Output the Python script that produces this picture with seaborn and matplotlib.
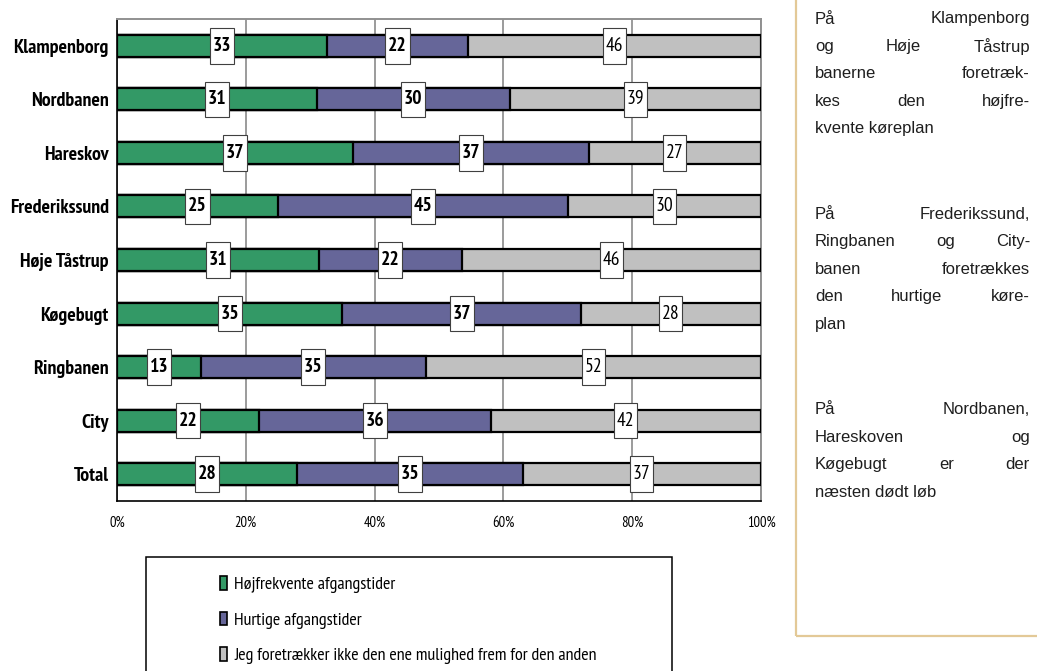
import matplotlib
matplotlib.use("Agg")
import matplotlib.pyplot as plt
from matplotlib import font_manager
from matplotlib.patches import Patch, Rectangle
from matplotlib.path import Path
from matplotlib.ticker import FixedLocator, FuncFormatter
import numpy as np
import pandas as pd
import seaborn as sns

# ---- data -------------------------------------------------------------
stations = ["Klampenborg", "Nordbanen", "Hareskov", "Frederikssund",
            "Høje Tåstrup", "Køgebugt", "Ringbanen", "City", "Total"]
hoejfrekvente = [33, 31, 37, 25, 31, 35, 13, 22, 28]
hurtige = [22, 30, 37, 45, 22, 37, 35, 36, 35]
ingen_praeference = [46, 39, 27, 30, 46, 28, 52, 42, 37]

series_names = ["Højfrekvente afgangstider",
                "Hurtige afgangstider",
                "Jeg foretrækker ikke den ene mulighed frem for den anden"]
series_colors = ["#339966", "#666699", "#C0C0C0"]
x_ticks = [0, 20, 40, 60, 80, 100]

notes = [
    ["På Klampenborg", "og Høje Tåstrup", "banerne foretræk-",
     "kes den højfre-", "kvente køreplan"],
    ["På Frederikssund,", "Ringbanen og City-", "banen foretrækkes",
     "den hurtige køre-", "plan"],
    ["På Nordbanen,", "Hareskoven og", "Køgebugt er der",
     "næsten dødt løb"],
]

# ---- style ------------------------------------------------------------
sns.set_style("white")
weights = {}
for f in font_manager.fontManager.ttflist:
    w = f.weight if isinstance(f.weight, int) else 400
    weights.setdefault(f.name, set()).add(w)
narrow_candidates = ["Liberation Sans Narrow", "Arial Narrow", "Archivo Narrow",
                     "PT Sans Narrow", "Roboto Condensed", "Pragati Narrow",
                     "Encode Sans Condensed", "Fira Sans Condensed"]
present = [n for n in narrow_candidates if n in weights]
with_bold = [n for n in present if any(w >= 600 for w in weights[n])]
NARROW = (with_bold or present or [None])[0]
if NARROW is None:
    NARROW, shrink = "Liberation Sans", 0.82
else:
    shrink = 1.0
plt.rcParams["font.family"] = [NARROW, "DejaVu Sans"]
plt.rcParams["text.color"] = "black"

W, H = 1037, 671
fig = plt.figure(figsize=(W / 100, H / 100), dpi=100)
ax = fig.add_axes([117 / W, 1 - 501 / H, (761 - 117) / W, (501 - 19) / H])

# ---- 100 % stacked bars ------------------------------------------------
vals = np.array([hoejfrekvente, hurtige, ingen_praeference], dtype=float)
shares = vals / vals.sum(axis=0) * 100
cum = np.cumsum(shares, axis=0)

df = pd.DataFrame({"station": stations,
                   "c1": cum[0], "c2": cum[1], "c3": cum[2]})

# draw the widest layer first so the shorter layers sit on top
for col, color in zip(["c3", "c2", "c1"], series_colors[::-1]):
    sns.barplot(data=df, x=col, y="station", orient="h", color=color,
                width=0.41, edgecolor="black", linewidth=1.6,
                saturation=1, ax=ax, zorder=3)


def tall_box(x0, y0, width, height, mutation_size):
    px = 0.14 * mutation_size
    py = 0.45 * mutation_size
    x0, x1 = x0 - px, x0 + width + px
    y0, y1 = y0 - py, y0 + height + py
    return Path([(x0, y0), (x1, y0), (x1, y1), (x0, y1), (x0, y0)],
                closed=True)


starts = np.vstack([np.zeros(len(stations)), cum[:-1]])
for s in range(3):
    for i in range(len(stations)):
        center = starts[s, i] + shares[s, i] / 2
        ax.text(center, i, f"{int(vals[s, i])}", ha="center", va="center",
                fontsize=14 * shrink,
                fontweight="bold" if s < 2 else "normal",
                color="black", zorder=5,
                bbox=dict(boxstyle=tall_box, facecolor="white",
                          edgecolor="#404040", linewidth=0.8))

# ---- axes cosmetics -----------------------------------------------------
ax.set_xlim(0, 100)
ax.set_ylim(len(stations) - 0.5, -0.5)
ax.set_xlabel("")
ax.set_ylabel("")
ax.xaxis.set_major_locator(FixedLocator(x_ticks))
ax.xaxis.set_major_formatter(FuncFormatter(lambda v, p: f"{int(v)}%"))
ax.tick_params(axis="x", direction="out", length=5, width=1, color="black",
               labelsize=10.5 * shrink, pad=6, labelcolor="black")
ax.tick_params(axis="y", which="major", length=0, pad=6,
               labelsize=14.3 * shrink, labelcolor="black")
for lab in ax.get_yticklabels():
    lab.set_fontweight("bold")
ax.yaxis.set_minor_locator(FixedLocator(np.arange(-0.5, len(stations), 1.0)))
ax.tick_params(axis="y", which="minor", direction="out", length=5, width=1,
               color="black")

ax.xaxis.grid(True, color="#808080", linewidth=1.1, zorder=0)
ax.set_axisbelow(True)
for side in ["top", "right"]:
    ax.spines[side].set_color("#909090")
    ax.spines[side].set_linewidth(1.4)
for side in ["left", "bottom"]:
    ax.spines[side].set_color("black")
    ax.spines[side].set_linewidth(1.2)

# ---- legend ---------------------------------------------------------------
fig.patches.append(Rectangle((146 / W, -0.05), (672 - 146) / W,
                             1 - 557 / H + 0.05, transform=fig.transFigure,
                             facecolor="white", edgecolor="black",
                             linewidth=1.1))
handles = [Patch(facecolor=c, edgecolor="black", linewidth=1.2)
           for c in series_colors]
fig.legend(handles, series_names, loc="upper left",
           bbox_to_anchor=(220 / W, 1 - 576 / H), frameon=False,
           fontsize=13 * shrink, handlelength=0.4, handleheight=0.78,
           handletextpad=0.4, labelspacing=1.03, borderpad=0,
           borderaxespad=0, labelcolor="black")

# ---- side note panel --------------------------------------------------------
fig.patches.append(Rectangle((796 / W, 1 - 636 / H), 0.3, 1.0,
                             transform=fig.transFigure, facecolor="none",
                             edgecolor="#e3c997", linewidth=1.6))

renderer = fig.canvas.get_renderer()
note_font = dict(family=["Liberation Sans", "DejaVu Sans"], size=12,
                 color="#1e1e1e")
x_left, x_right = 815, 1030
y = 19
for para in notes:
    for k, line in enumerate(para):
        yf = 1 - y / H
        words = line.split()
        last = k == len(para) - 1
        if last or len(words) == 1:
            fig.text(x_left / W, yf, line, ha="left", va="center", **note_font)
        else:
            texts = [fig.text(0, yf, w, ha="left", va="center", **note_font)
                     for w in words]
            widths = [t.get_window_extent(renderer).width for t in texts]
            gap = (x_right - x_left - sum(widths)) / (len(words) - 1)
            xpos = x_left
            for t, wdt in zip(texts, widths):
                t.set_x(xpos / W)
                xpos += wdt + gap
        y += 27.4
    y += 58.5

fig.savefig("out.png", dpi=100)
